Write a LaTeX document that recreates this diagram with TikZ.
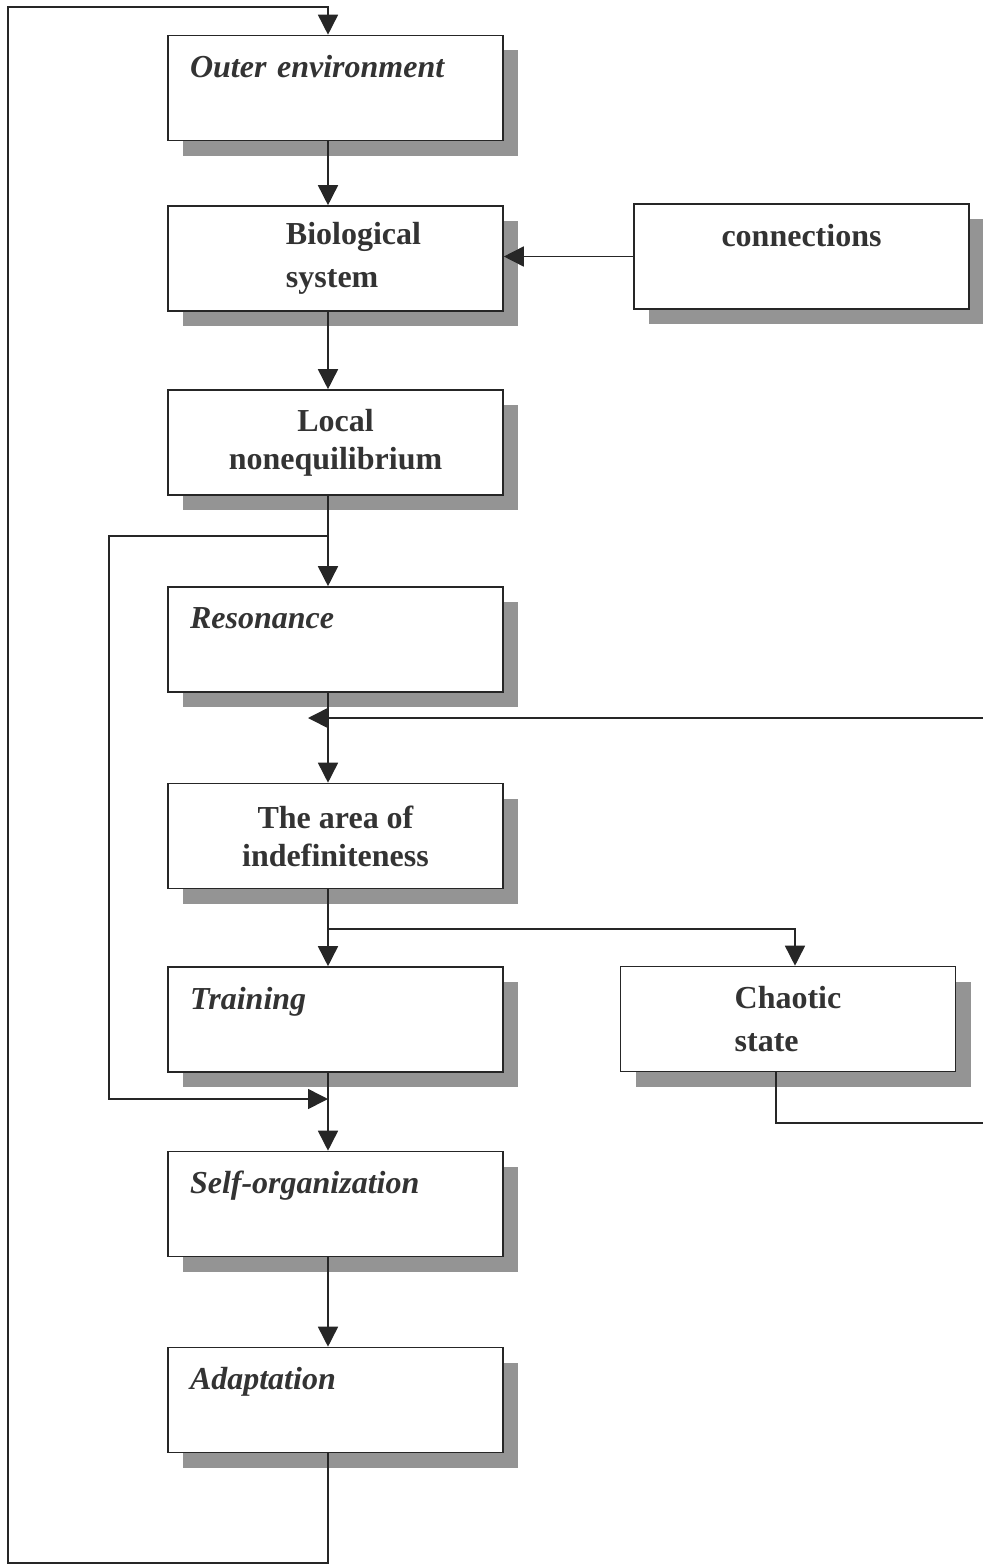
\documentclass[tikz,border=0pt]{standalone}
\usepackage{fontspec}
\setmainfont{Liberation Serif}
\usetikzlibrary{arrows.meta,shadows}

\tikzset{
	stage/.style={draw=black!85, line width=0.8pt, fill=white, inner sep=0pt,
		minimum width=167.5pt, minimum height=52.5pt, text=black!80, align=center,
		font=\fontsize{16}{21.5}\selectfont\bfseries,
		general shadow={fill=black!42, draw=none, shadow xshift=7.5pt, shadow yshift=-7.5pt}},
	tight/.style={font=\fontsize{16}{19}\selectfont\bfseries},
	corner/.style={stage, text width=145.5pt, align=left,
		font=\fontsize{16}{21.5}\selectfont\bfseries\itshape},
	flow/.style={draw=black!85, line width=0.8pt, -{Triangle[length=10pt,width=10pt]}},
	wire/.style={draw=black!85, line width=0.8pt}
}

\begin{document}
\begin{tikzpicture}[x=0.5pt, y=-0.5pt]
		%%%%% START %%%%%
		\useasboundingbox (0, 0) rectangle (983, 1568);
		
		\node[corner] (outer) at (335.5, 88) {Outer environment\\\mbox{}};
		\node[stage, align=left] (bio) at (335.5, 258.5) {\hspace*{18pt}Biological\\\hspace*{18pt}system};
		\node[stage] (conn) at (801.5, 256.5) {connections\\\mbox{}};
		\node[stage, tight] (local) at (335.5, 442.5) {Local\\nonequilibrium};
		\node[corner] (reson) at (335.5, 639.5) {Resonance\\\mbox{}};
		\node[stage, tight] (area) at (335.5, 836) {The area of\\indefiniteness};
		\node[corner] (train) at (335.5, 1019.5) {Training\\\mbox{}};
		\node[stage, align=left] (chaos) at (788, 1019) {Chaotic\\state};
		\node[corner] (self) at (335.5, 1204) {Self-organization\\\mbox{}};
		\node[corner] (adapt) at (335.5, 1400) {Adaptation\\\mbox{}};
		
		\coordinate (spine) at (328, 0);
		\coordinate (lowleft) at (8, 1563);
		\coordinate (topleft) at (8, 7);
		\coordinate (split) at (328, 536);
		\coordinate (bend) at (109, 536);
		\coordinate (merge) at (328, 1099);
		\coordinate (backin) at (983, 718);
		\coordinate (backtip) at (308, 718);
		\coordinate (fork) at (328, 929);
		\coordinate (chaosin) at (795, 0);
		\coordinate (chaosout) at (776, 0);
		\coordinate (chaosexit) at (983, 1123);
		
		% outer feedback frame
		\draw[flow] (adapt.south -| spine) |- (lowleft) -- (topleft) -| (outer.north -| spine);
		
		\draw[flow] (outer.south -| spine) -- (bio.north -| spine);
		\draw[flow] (conn.west) -- (conn.west -| bio.east);
		\draw[flow] (bio.south -| spine) -- (local.north -| spine);
		\draw[flow] (local.south -| spine) -- (reson.north -| spine);
		\draw[flow] (split) -- (bend) |- (merge);
		
		\draw[flow] (reson.south -| spine) -- (area.north -| spine);
		\draw[flow] (backin) -- (backtip);
		
		\draw[flow] (area.south -| spine) -- (train.north -| spine);
		\draw[flow] (fork) -| (chaos.north -| chaosin);
		\draw[wire] (chaos.south -| chaosout) |- (chaosexit);
		
		\draw[flow] (train.south -| spine) -- (self.north -| spine);
		\draw[flow] (self.south -| spine) -- (adapt.north -| spine);
		%%%%% END %%%%%
\end{tikzpicture}
\end{document}
